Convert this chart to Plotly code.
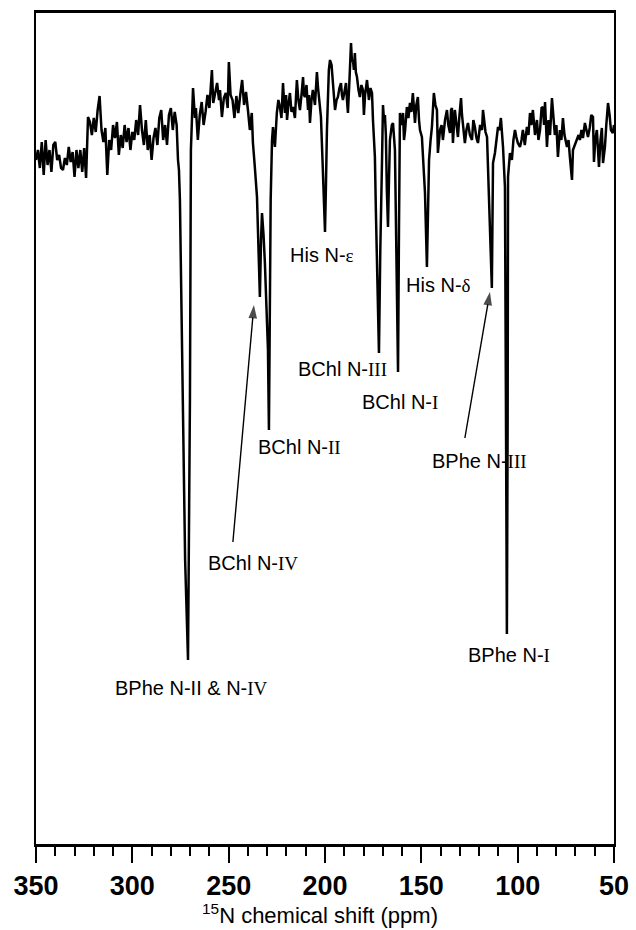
import plotly.graph_objects as go

# ---- data: 15N CP/MAS spectrum (arbitrary intensity units) ----
shift_1 = [350, 349, 348, 347, 346, 345, 344, 343, 342, 341, 340, 339, 338, 337, 336, 335, 334, 333, 332, 331,
           330, 329, 328, 327, 326, 325, 324, 323.5, 323,
           322, 321, 320, 319, 318, 317, 316, 315, 314, 313, 312, 311, 310, 309, 308, 307, 306, 305, 304, 303,
           302, 301, 300, 299, 298, 297, 296, 295, 294, 293, 292, 291, 290, 289, 288, 287, 286, 285, 284, 283,
           282, 281, 280, 279, 278, 277, 276.3, 275.8]
inten_1 = [684, 694, 676, 702, 669, 704, 679, 694, 672, 699, 702, 684, 689, 676, 674, 686, 679, 697, 682, 692,
           667, 694, 676, 694, 672, 696, 666, 694, 727,
           722, 709, 726, 712, 734, 748, 714, 702, 716, 669, 704, 694, 719, 706, 722, 689, 709, 696, 719, 702,
           716, 694, 712, 704, 724, 709, 739, 714, 699, 724, 694, 709, 684, 706, 716, 699, 726, 734, 704, 719,
           699, 729, 736, 714, 732, 719, 684, 674]

shift_2 = [275.3, 274.3, 273.7, 272.6, 271.1, 270.6, 270.1, 269.6, 268.5]
inten_2 = [644, 514, 404, 284, 184, 324, 444, 694, 756]

shift_3 = [267.5, 267.0, 266.0, 265.0, 264.0, 263.0, 262.0, 261.0, 260.0, 259.0, 258.7, 258.0, 257.0, 256.0,
           255.0, 254.5, 253.5, 252.5, 251.5, 250.5, 249.9, 249.0, 248.0, 247.0, 246.0, 245.0, 244.0, 243.0,
           242.0, 241.0, 240.0, 239.0, 238.0, 237.4, 236.5, 235.3, 234.8, 233.8, 233.2, 232.7, 231.9, 231.2,
           229.6, 229.1, 228.7, 228.2, 227.5, 227.0, 226.0]
inten_3 = [726, 736, 704, 729, 742, 719, 732, 749, 736, 759, 774, 741, 752, 761,
           744, 754, 727, 746, 751, 736, 782, 749, 744, 726, 748, 731, 749, 764,
           739, 752, 734, 714, 731, 701, 679, 647, 614, 547, 604, 631, 609, 581,
           494, 414, 514, 644, 704, 717, 697]

shift_4 = [225.0, 224.2, 223.4, 222.6, 221.8, 221.3, 220.8, 220.2, 219.7, 219.0, 218.2, 217.4, 216.6, 215.6,
           214.6, 213.8, 213.0, 212.2, 211.4, 210.9, 210.4, 209.6, 208.8, 208.3, 207.8, 207.0, 206.3, 205.2,
           204.2, 203.6, 203.1, 202.1, 201.3, 200.5, 200.0, 199.5, 199.0, 198.0, 197.4]
inten_4 = [731, 744, 737, 726, 761, 744, 731, 749, 724, 739, 751, 732, 737, 726,
           764, 744, 734, 749, 767, 749, 747, 759, 734, 749, 721, 744, 754, 739,
           772, 756, 747, 727, 684, 639, 612, 659, 714, 774, 784]

shift_5 = [196.6, 195.9, 195.3, 194.8, 194.0, 193.3, 192.5, 191.7, 191.2, 190.7, 189.9, 189.1, 188.6, 188.1,
           187.3, 186.8, 186.5, 186.0, 185.5, 185.0, 184.5, 184.0, 183.4, 182.6, 181.9, 181.1, 180.3, 179.8,
           179.2, 178.2, 177.7, 177.2, 176.4, 175.6, 175.1, 174.1, 173.6, 173.0, 172.0, 171.3, 171.0, 170.4,
           169.9, 169.4, 168.9, 168.4, 167.9, 167.3, 166.8, 166.3, 165.3, 164.7, 163.7, 163.2, 162.7, 162.1,
           161.6, 161.1, 160.3, 159.5, 159.0, 158.5, 157.5, 156.7, 155.9, 155.2, 154.4, 153.8, 153.3, 152.6,
           151.8, 151.2, 150.7]
inten_5 = [779, 761, 749, 734, 744, 747, 756, 761, 749, 744, 752, 761, 744, 731,
           764, 789, 801, 782, 784, 774, 791, 772, 767, 754, 747, 759, 754, 729,
           749, 764, 749, 744, 756, 751, 724, 687, 634, 584, 491, 594, 644, 684,
           739, 724, 729, 709, 654, 617, 664, 704, 719, 721, 694, 634, 554, 472,
           614, 731, 719, 731, 704, 712, 737, 726, 741, 732, 751, 734, 721, 739,
           747, 724, 714]

shift_6 = [149.7, 148.9, 148.1, 147.1, 146.6, 146.0, 145.2, 144.5, 143.5, 142.7, 141.9, 141.4, 140.3, 139.5,
           138.8, 137.7, 136.7, 136.0, 135.1, 134.6, 134.1, 133.6, 132.6, 131.8, 131.0, 130.2, 129.4, 128.9,
           128.4, 127.4, 126.6, 125.8, 124.8, 123.7, 123.0, 122.2, 121.4, 120.6, 119.5, 118.5, 118.0, 117.5,
           116.7, 115.9]
inten_6 = [707, 684, 651, 577, 624, 684, 704, 717, 751, 739, 734, 691, 714, 719,
           704, 724, 734, 719, 711, 734, 736, 701, 734, 719, 707, 729, 746, 729,
           717, 701, 714, 721, 709, 704, 724, 717, 706, 701, 719, 714, 734, 724,
           712, 707]

shift_7 = [115.4, 114.4, 113.4, 112.8, 111.8, 111.0, 110.2, 109.4, 108.7, 107.6, 106.6, 106.1, 105.6, 105.2,
           105.0, 104.0, 103.0, 102.2, 101.4, 100.7, 99.9, 98.8, 98.0, 97.3, 96.3, 95.2, 94.4, 93.6,
           92.9, 92.1, 91.0, 90.0, 89.2, 88.4, 87.6, 86.9, 86.3, 85.8, 84.8, 84.0, 83.2, 82.2,
           81.5, 80.7, 79.9, 79.1, 78.1, 77.3, 76.5, 75.7, 74.4, 73.6, 72.9, 71.8, 71.3, 70.3,
           69.2, 68.4, 67.7, 66.9, 66.1, 65.1, 64.3, 63.5, 62.6, 61.8, 60.9, 60.4, 59.7, 58.9,
           58.3, 57.8, 57.0, 56.3, 55.7, 54.7, 54.0, 53.1, 52.3, 51.6, 50.6, 50.0]
inten_7 = [674, 614, 556, 681, 691, 704, 717, 714, 726, 697, 657, 444, 210, 424,
           667, 691, 684, 704, 714, 707, 701, 697, 704, 714, 699, 717, 709, 731,
           719, 734, 709, 724, 704, 714, 736, 737, 719, 742, 697, 724, 709, 746,
           729, 709, 719, 687, 714, 704, 726, 709, 697, 704, 687, 664, 694, 699,
           704, 709, 704, 714, 706, 721, 714, 707, 716, 729, 727, 682, 704, 714,
           694, 677, 704, 716, 681, 697, 719, 741, 729, 714, 711, 719]

tick_values = [350, 300, 250, 200, 150, 100, 50]
x_title = "<sup>15</sup>N chemical shift (ppm)"

# peak labels: (text, shift, intensity)
SERIF = "<span style='font-family:Liberation Serif;font-size:19px'>{}</span>"
label_text = ["His N-" + SERIF.format("ε"),
              "His N-" + SERIF.format("δ"),
              "BChl N-" + SERIF.format("III"),
              "BChl N-" + SERIF.format("I"),
              "BChl N-" + SERIF.format("II"),
              "BPhe N-" + SERIF.format("III"),
              "BChl N-" + SERIF.format("IV"),
              "BPhe N-II &amp; N-" + SERIF.format("IV"),
              "BPhe N-" + SERIF.format("I")]
label_shift = [201.6, 140.9, 190.7, 161.1, 213.0, 119.6, 237.4, 269.1, 104.5]
label_inten = [589, 559, 475, 442, 397, 383, 281, 156, 189]

# arrows (shaft from tail to tip)
arrow1_shift = [247.8, 236.9]
arrow1_inten = [302, 539]
arrow2_shift = [127.4, 114.4]
arrow2_inten = [406, 552]

# ---- build ----
shift, inten = [], []
for s, v in [(shift_1, inten_1), (shift_2, inten_2), (shift_3, inten_3), (shift_4, inten_4),
             (shift_5, inten_5), (shift_6, inten_6), (shift_7, inten_7)]:
    n = min(len(s), len(v))
    shift += s[:n]
    inten += v[:n]

fig = go.Figure()
fig.add_trace(go.Scatter(x=shift, y=inten, mode="lines",
                         line=dict(color="black", width=2.5), hoverinfo="skip"))

for xs, ys in [(arrow1_shift, arrow1_inten), (arrow2_shift, arrow2_inten)]:
    fig.add_trace(go.Scatter(x=xs, y=ys, mode="lines+markers",
                             line=dict(color="black", width=1.4),
                             marker=dict(symbol="arrow", size=[0, 14], color="black",
                                         angleref="previous", line=dict(width=0)),
                             hoverinfo="skip"))

annotations = []
for t, xs, yi in zip(label_text, label_shift, label_inten):
    annotations.append(dict(x=xs, y=yi, xref="x", yref="y", text=t, showarrow=False,
                            font=dict(family="Liberation Sans", size=20, color="black")))
annotations.append(dict(x=0.491, y=-0.084, xref="paper", yref="paper", text=x_title,
                        showarrow=False, xanchor="center", yanchor="middle",
                        font=dict(family="Liberation Sans", size=22, color="black")))

fig.update_layout(
    width=636, height=930,
    margin=dict(l=36, r=22, t=13, b=86),
    plot_bgcolor="white", paper_bgcolor="white",
    showlegend=False,
    annotations=annotations,
    xaxis=dict(
        range=[350, 50], tickvals=tick_values, ticktext=[str(v) for v in tick_values],
        automargin=False,
        ticks="outside", ticklen=16, tickwidth=2, tickcolor="black",
        showline=True, linewidth=2.5, linecolor="black", mirror=True,
        showgrid=False, zeroline=False,
        minor=dict(dtick=10, tick0=0, ticks="outside", ticklen=9, tickwidth=2, tickcolor="black", showgrid=False),
        tickfont=dict(family="Liberation Sans", size=27, color="black", weight="bold"),
        ticklabelstandoff=0,
    ),
    yaxis=dict(
        range=[0, 831], showline=True, linewidth=2, linecolor="black", mirror=True,
        automargin=False,
        ticks="", showticklabels=False, showgrid=False, zeroline=False,
    ),
)

fig.write_html("out.html")
